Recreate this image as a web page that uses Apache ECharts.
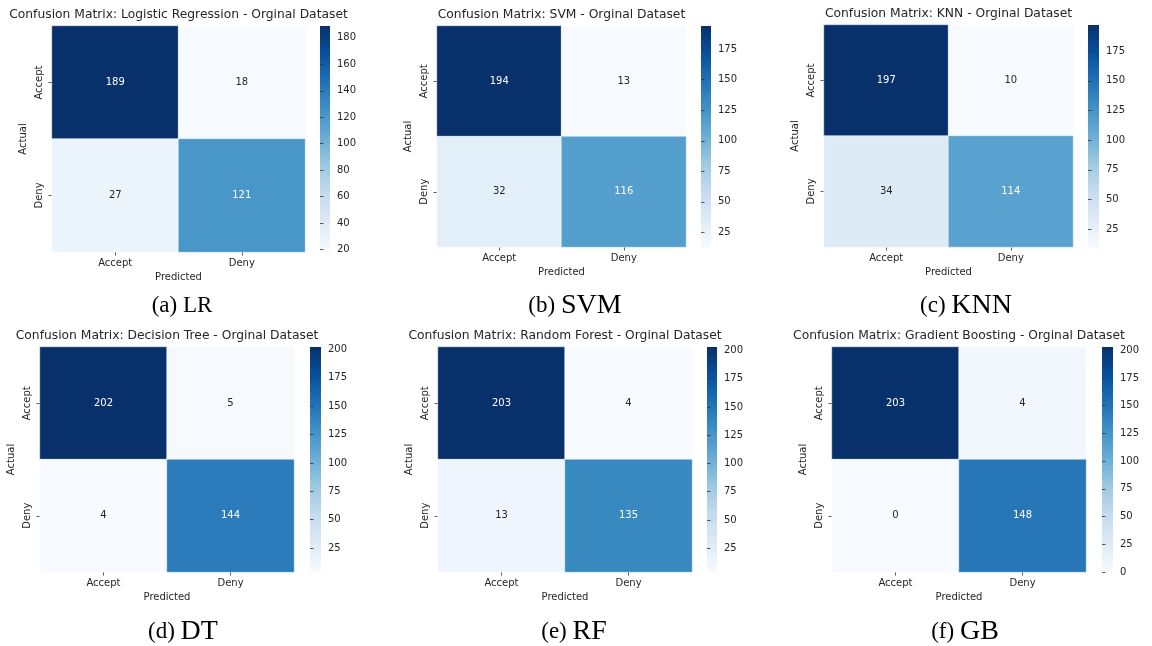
<!DOCTYPE html>
<html>
<head>
<meta charset="utf-8">
<script src="https://cdn.jsdelivr.net/npm/echarts@6/dist/echarts.min.js"></script>
<style>
  html, body { margin: 0; padding: 0; background: #ffffff; }
  #chart { width: 1152px; height: 646px; }
</style>
</head>
<body>
<div id="chart"></div>
<script>
// Class labels shared by both axes of every matrix
const classes = ['Accept', 'Deny'];

// Model names used in the panel titles
const modelNames = ['Logistic Regression', 'SVM', 'KNN', 'Decision Tree', 'Random Forest', 'Gradient Boosting'];

// Sub-figure captions
const captionTags = ['(a)', '(b)', '(c)', '(d)', '(e)', '(f)'];
const captionNames = ['LR', 'SVM', 'KNN', 'DT', 'RF', 'GB'];

// Confusion counts: rows = actual class, columns = predicted class
const lrCounts  = [[189, 18], [27, 121]];
const svmCounts = [[194, 13], [32, 116]];
const knnCounts = [[197, 10], [34, 114]];
const dtCounts  = [[202, 5],  [4, 144]];
const rfCounts  = [[203, 4],  [13, 135]];
const gbCounts  = [[203, 4],  [0, 148]];

// Colour-bar tick labels for each panel
const lrTicks  = [20, 40, 60, 80, 100, 120, 140, 160, 180];
const svmTicks = [25, 50, 75, 100, 125, 150, 175];
const knnTicks = [25, 50, 75, 100, 125, 150, 175];
const dtTicks  = [25, 50, 75, 100, 125, 150, 175, 200];
const rfTicks  = [25, 50, 75, 100, 125, 150, 175, 200];
const gbTicks  = [0, 25, 50, 75, 100, 125, 150, 175, 200];

const allCounts = [lrCounts, svmCounts, knnCounts, dtCounts, rfCounts, gbCounts];
const allTicks = [lrTicks, svmTicks, knnTicks, dtTicks, rfTicks, gbTicks];

// Sequential blue palette
const BLUES = ['#f7fbff', '#deebf7', '#c6dbef', '#9ecae1', '#6baed6', '#4292c6', '#2171b5', '#08519c', '#08306b'];

// Page layout of each panel: matrix box, colour-bar box, caption anchor
const layout = [
  { grid: [52, 26, 253, 226],  bar: [320, 26, 10, 226],  caption: [182, 306], small: false },
  { grid: [437, 26, 249, 221], bar: [701, 26, 10, 221],  caption: [575, 306], small: true },
  { grid: [824, 25, 249, 222], bar: [1088, 25, 11, 222], caption: [966, 306], small: true },
  { grid: [40, 347, 254, 225], bar: [310, 347, 11, 225], caption: [183, 632], small: true },
  { grid: [438, 347, 254, 225], bar: [707, 347, 10, 225], caption: [574, 632], small: true },
  { grid: [832, 347, 254, 225], bar: [1102, 347, 11, 225], caption: [965, 632], small: true }
];

const FONT = 'DejaVu Sans';
const INK = '#262626';

// Vertical gradient for the colour bars: top = darkest, bottom = lightest
const barStops = BLUES.map(function (c, k) {
  return { offset: 1 - k / (BLUES.length - 1), color: c };
}).reverse();

const grids = [], xAxes = [], yAxes = [], series = [], visualMaps = [], graphics = [];

allCounts.forEach(function (counts, i) {
  const L = layout[i];
  const flat = counts[0].concat(counts[1]);
  const vmin = Math.min.apply(null, flat);
  const vmax = Math.max.apply(null, flat);
  const gHeat = 2 * i, gBar = 2 * i + 1;

  // Matrix grid
  grids.push({ left: L.grid[0], top: L.grid[1], width: L.grid[2], height: L.grid[3], outerBoundsMode: 'none' });
  xAxes.push({
    gridIndex: gHeat, type: 'category', data: classes, position: 'bottom',
    axisLine: { show: false },
    axisTick: { show: true, alignWithLabel: true, length: 3.5, lineStyle: { color: '#333', width: 0.8 } },
    axisLabel: { margin: 6, fontSize: 10, color: INK, fontFamily: FONT },
    splitLine: { show: false },
    name: 'Predicted', nameLocation: 'middle', nameGap: 20,
    nameTextStyle: { fontSize: 10, color: INK, fontFamily: FONT }
  });
  yAxes.push({
    gridIndex: gHeat, type: 'category', data: classes, inverse: true,
    axisLine: { show: false },
    axisTick: { show: true, alignWithLabel: true, length: 3.5, lineStyle: { color: '#333', width: 0.8 } },
    axisLabel: { rotate: 90, margin: 8, fontSize: 10, color: INK, fontFamily: FONT },
    splitLine: { show: false },
    name: 'Actual', nameLocation: 'middle', nameGap: 24,
    nameTextStyle: { fontSize: 10, color: INK, fontFamily: FONT }
  });

  // Colour-bar grid: value axis carrying the bar's ticks and labels
  grids.push({ left: L.bar[0], top: L.bar[1], width: L.bar[2], height: L.bar[3], outerBoundsMode: 'none' });
  xAxes.push({ gridIndex: gBar, type: 'value', show: false, min: 0, max: 1 });
  yAxes.push({
    gridIndex: gBar, type: 'value', min: vmin, max: vmax, position: 'right',
    axisLine: { show: false },
    splitLine: { show: false },
    axisTick: { show: true, length: 3.5, customValues: allTicks[i], lineStyle: { color: '#333', width: 0.8 } },
    axisLabel: { customValues: allTicks[i], margin: 7, fontSize: 10, color: INK, fontFamily: FONT }
  });

  const data = [];
  counts.forEach(function (row, r) {
    row.forEach(function (v, c) {
      const t = (v - vmin) / (vmax - vmin);
      data.push({ value: [c, r, v], label: { color: t > 0.45 ? '#ffffff' : INK } });
    });
  });

  series.push({
    type: 'heatmap', xAxisIndex: gHeat, yAxisIndex: gHeat, data: data,
    label: { show: true, fontSize: 10, fontFamily: FONT },
    itemStyle: { borderColor: 'rgba(255,255,255,0.45)', borderWidth: 1 },
    emphasis: { disabled: true },
    silent: true
  });

  // Colour mapping of the cells, scaled from each matrix's min to max
  visualMaps.push({
    type: 'continuous', seriesIndex: i, dimension: 2, min: vmin, max: vmax,
    inRange: { color: BLUES }, show: false
  });

  // Colour bar drawn as a gradient strip behind its axis
  graphics.push({
    type: 'rect', silent: true, z: 0,
    shape: { x: L.bar[0], y: L.bar[1], width: L.bar[2], height: L.bar[3] },
    style: { fill: new echarts.graphic.LinearGradient(0, 0, 0, 1, barStops) }
  });

  // Panel title
  graphics.push({
    type: 'text', x: L.grid[0] + L.grid[2] / 2, y: L.grid[1] - 11,
    style: {
      text: 'Confusion Matrix: ' + modelNames[i] + ' - Orginal Dataset',
      fill: INK, font: '12.3px "' + FONT + '"', textAlign: 'center', textVerticalAlign: 'middle'
    }
  });

  // Sub-figure caption
  graphics.push({
    type: 'text', x: L.caption[0], y: L.caption[1],
    style: {
      text: '{t|' + captionTags[i] + ' }{n|' + captionNames[i] + '}',
      fill: '#000', textAlign: 'center', textVerticalAlign: 'middle',
      rich: {
        t: { fontFamily: 'Liberation Serif', fontSize: 23, fill: '#000' },
        n: { fontFamily: 'Liberation Serif', fontSize: L.small ? 28 : 23, fill: '#000' }
      }
    }
  });
});

const chart = echarts.init(document.getElementById('chart'), null, { renderer: 'canvas' });
chart.setOption({
  animation: false,
  backgroundColor: '#ffffff',
  textStyle: { fontFamily: FONT },
  grid: grids,
  xAxis: xAxes,
  yAxis: yAxes,
  visualMap: visualMaps,
  series: series,
  graphic: graphics
});
</script>
</body>
</html>
